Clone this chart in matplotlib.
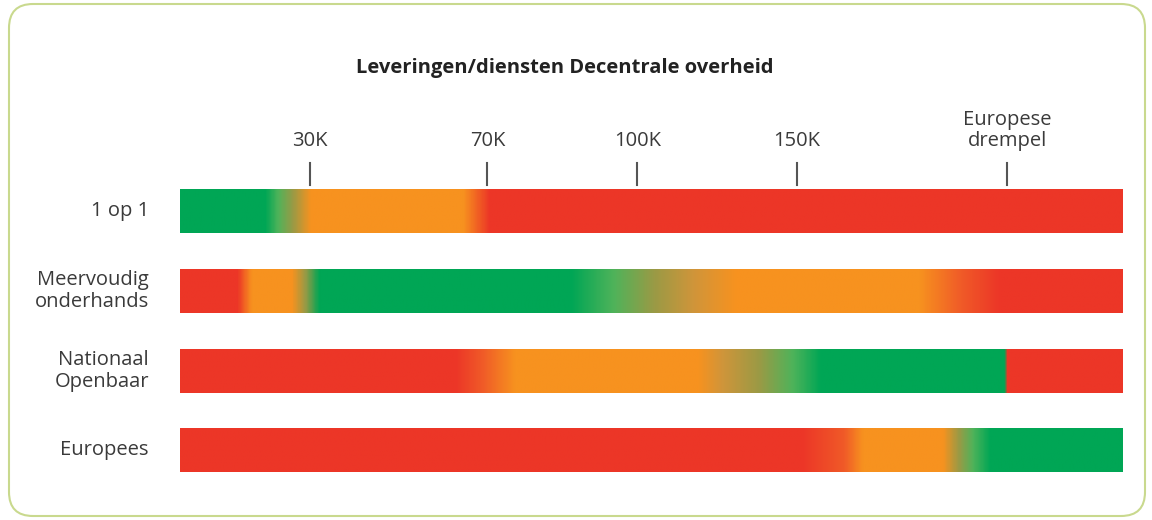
import numpy as np
import matplotlib.pyplot as plt
from matplotlib.colors import LinearSegmentedColormap, to_rgb
from matplotlib.patches import FancyBboxPatch

plt.rcParams['font.family'] = ['Open Sans', 'DejaVu Sans']

# Data: position along the bar in percent of its length, with the colour there
title = "Leveringen/diensten Decentrale overheid"
rows = ["1 op 1", "Meervoudig\nonderhands", "Nationaal\nOpenbaar", "Europees"]

tick_pos = [13.8, 32.6, 48.5, 65.4, 87.7]
tick_labels = ["30K", "70K", "100K", "150K", "Europese\ndrempel"]

GREEN = "#00a655"
LGREEN = "#4fb35a"
OLIVE = "#9a9a45"
TAN = "#d0953a"
ORANGE = "#f7921f"
REDOR = "#f05a28"
RED = "#ec3627"

stops_1op1 = [(0, GREEN), (9.0, GREEN), (10.3, LGREEN), (11.9, OLIVE), (13.8, ORANGE),
              (30.0, ORANGE), (32.8, RED), (100, RED)]
stops_meerv = [(0, RED), (6.0, RED), (7.5, ORANGE), (11.8, ORANGE), (13.2, OLIVE),
               (14.7, GREEN), (41.5, GREEN), (46.0, LGREEN), (50.3, OLIVE),
               (54.5, TAN), (59.0, ORANGE), (78.5, ORANGE), (83.0, REDOR), (87.0, RED), (100, RED)]
stops_nat = [(0, RED), (29.2, RED), (32.0, REDOR), (35.5, ORANGE), (55.0, ORANGE),
             (57.5, TAN), (61.5, OLIVE), (65.0, LGREEN), (68.0, GREEN), (87.6, GREEN),
             (87.8, RED), (100, RED)]
stops_eur = [(0, RED), (66.0, RED), (70.5, REDOR), (72.5, ORANGE), (81.0, ORANGE),
             (82.7, OLIVE), (84.2, LGREEN), (86.0, GREEN), (100, GREEN)]
all_stops = [stops_1op1, stops_meerv, stops_nat, stops_eur]

fig = plt.figure(figsize=(11.52, 5.2), dpi=100)
W, H = 1152, 520

# rounded frame, drawn in a background axes in pixel units
bg = fig.add_axes([0, 0, 1, 1], zorder=-1)
bg.set_xlim(0, W)
bg.set_ylim(H, 0)
bg.axis("off")
bg.add_patch(FancyBboxPatch((9, 4), 1136, 512,
                            boxstyle="round,pad=0,rounding_size=24",
                            facecolor="white", edgecolor="#c9d98e", linewidth=1.5))
bg.text(565, 68, title, ha="center", va="center",
        fontsize=14.5, fontweight="bold", color="#222222")

# axes aligned with the bars
ax = fig.add_axes([180 / W, 1 - 490 / H, 943 / W, 340 / H])
ax.set_xlim(0, 100)
ax.set_ylim(3.496, -0.772)
ax.axis("off")

bar_h = 0.55
n = 600
xs = np.linspace(0, 100, n)
for i, stops in enumerate(all_stops):
    pos = [p / 100 for p, c in stops]
    cols = [to_rgb(c) for p, c in stops]
    cmap = LinearSegmentedColormap.from_list(f"bar{i}", list(zip(pos, cols)), N=1024)
    img = cmap(xs / 100)[np.newaxis, :, :3]
    ax.imshow(img, extent=(0, 100, i + bar_h / 2, i - bar_h / 2),
              aspect="auto", interpolation="bilinear", zorder=2)
    ax.text(-3.3, i, rows[i], ha="right", va="center", fontsize=14.5,
            color="#3a3a3a", linespacing=1.1)

# threshold ticks
for p, lab in zip(tick_pos, tick_labels):
    ax.plot([p, p], [-0.61, -0.33], color="#555555", lw=1.5, clip_on=False)
    ax.text(p, -0.76, lab, ha="center", va="bottom", fontsize=14.5,
            color="#3a3a3a", linespacing=1.08)

fig.savefig("out.png", dpi=100)
